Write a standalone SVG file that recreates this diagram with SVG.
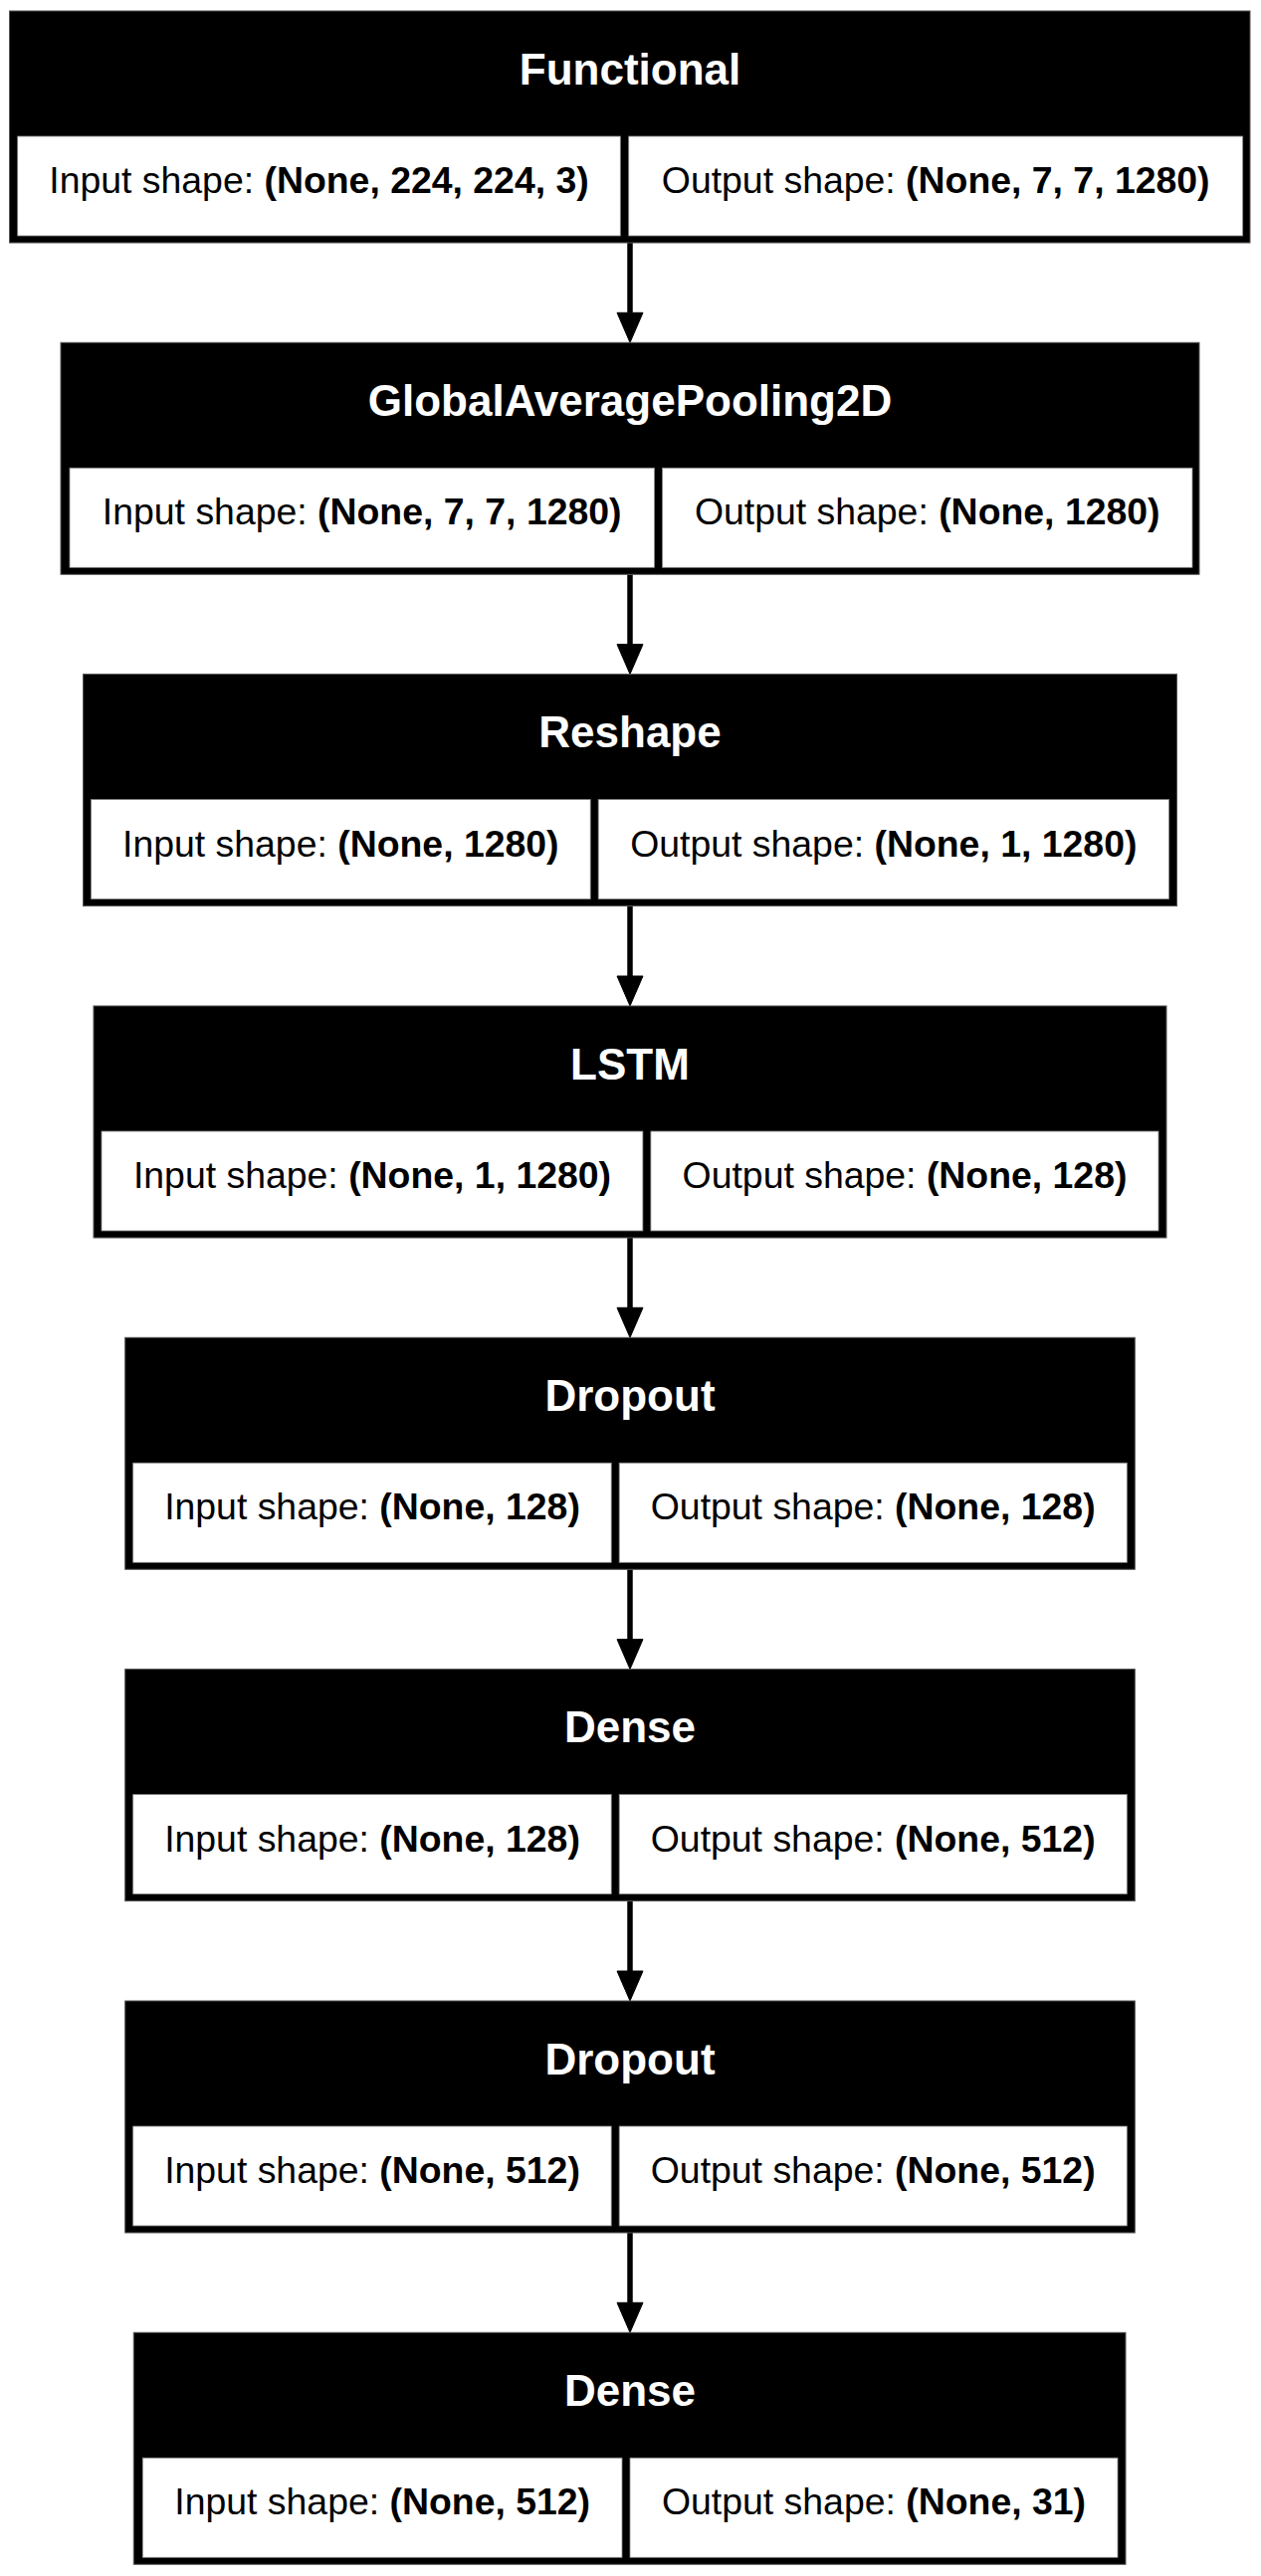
<svg xmlns="http://www.w3.org/2000/svg" width="1267" height="2589" viewBox="0 0 1267 2589">
<style>
.outer{fill:#000;stroke:#555;stroke-width:1}
.cell{fill:#fff;stroke:#888;stroke-width:0.8}
.title{font-family:"Liberation Sans",Arial,sans-serif;font-weight:bold;font-size:44px;fill:#fff;text-anchor:middle}
.txt{font-family:"Liberation Sans",Arial,sans-serif;font-size:37.4px;fill:#000;text-anchor:middle}
.b{font-weight:bold}
.edge{stroke:#000;stroke-width:5.5;fill:none}
.head{fill:#000;stroke:#000;stroke-width:1}
</style>
<rect width="1267" height="2589" fill="#fff"/>
<g id="connectors">
<line class="edge" x1="633" y1="244" x2="633" y2="314.3"/><polygon class="head" points="620,314.3 646,314.3 633,344.3"/>
<line class="edge" x1="633" y1="577.3" x2="633" y2="647.6"/><polygon class="head" points="620,647.6 646,647.6 633,677.6"/>
<line class="edge" x1="633" y1="910.6" x2="633" y2="981"/><polygon class="head" points="620,981 646,981 633,1011"/>
<line class="edge" x1="633" y1="1244" x2="633" y2="1314.3"/><polygon class="head" points="620,1314.3 646,1314.3 633,1344.3"/>
<line class="edge" x1="633" y1="1577.3" x2="633" y2="1647.6"/><polygon class="head" points="620,1647.6 646,1647.6 633,1677.6"/>
<line class="edge" x1="633" y1="1910.6" x2="633" y2="1981"/><polygon class="head" points="620,1981 646,1981 633,2011"/>
<line class="edge" x1="633" y1="2244" x2="633" y2="2314.3"/><polygon class="head" points="620,2314.3 646,2314.3 633,2344.3"/>
</g>
<g id="node1">
<rect class="outer" x="9.5" y="11" width="1246.5" height="233"/>
<rect class="cell" x="17.7" y="137" width="605.6" height="100"/>
<rect class="cell" x="631.7" y="137" width="617" height="100"/>
<text class="title" x="633" y="84.5">Functional</text>
<text class="txt" x="320.5" y="194">Input shape: <tspan class="b">(None, 224, 224, 3)</tspan></text>
<text class="txt" x="940.2" y="194">Output shape: <tspan class="b">(None, 7, 7, 1280)</tspan></text>
</g>
<g id="node2">
<rect class="outer" x="61" y="344.3" width="1144" height="233"/>
<rect class="cell" x="70" y="470.3" width="587.5" height="100"/>
<rect class="cell" x="665.5" y="470.3" width="532.5" height="100"/>
<text class="title" x="633" y="417.8">GlobalAveragePooling2D</text>
<text class="txt" x="363.7" y="527.3">Input shape: <tspan class="b">(None, 7, 7, 1280)</tspan></text>
<text class="txt" x="931.7" y="527.3">Output shape: <tspan class="b">(None, 1280)</tspan></text>
</g>
<g id="node3">
<rect class="outer" x="83.5" y="677.6" width="1099" height="233"/>
<rect class="cell" x="91.5" y="803.6" width="501.7" height="100"/>
<rect class="cell" x="601.2" y="803.6" width="573.3" height="100"/>
<text class="title" x="633" y="751.1">Reshape</text>
<text class="txt" x="342.3" y="860.6">Input shape: <tspan class="b">(None, 1280)</tspan></text>
<text class="txt" x="887.8" y="860.6">Output shape: <tspan class="b">(None, 1, 1280)</tspan></text>
</g>
<g id="node4">
<rect class="outer" x="94" y="1011" width="1078" height="233"/>
<rect class="cell" x="102" y="1137" width="543.9" height="100"/>
<rect class="cell" x="653.9" y="1137" width="510.1" height="100"/>
<text class="title" x="633" y="1084.5">LSTM</text>
<text class="txt" x="374" y="1194">Input shape: <tspan class="b">(None, 1, 1280)</tspan></text>
<text class="txt" x="909" y="1194">Output shape: <tspan class="b">(None, 128)</tspan></text>
</g>
<g id="node5">
<rect class="outer" x="125.7" y="1344.3" width="1014.6" height="233"/>
<rect class="cell" x="133.7" y="1470.3" width="480.5" height="100"/>
<rect class="cell" x="622.2" y="1470.3" width="510.1" height="100"/>
<text class="title" x="633" y="1417.8">Dropout</text>
<text class="txt" x="374" y="1527.3">Input shape: <tspan class="b">(None, 128)</tspan></text>
<text class="txt" x="877.2" y="1527.3">Output shape: <tspan class="b">(None, 128)</tspan></text>
</g>
<g id="node6">
<rect class="outer" x="125.7" y="1677.6" width="1014.6" height="233"/>
<rect class="cell" x="133.7" y="1803.6" width="480.5" height="100"/>
<rect class="cell" x="622.2" y="1803.6" width="510.1" height="100"/>
<text class="title" x="633" y="1751.1">Dense</text>
<text class="txt" x="374" y="1860.6">Input shape: <tspan class="b">(None, 128)</tspan></text>
<text class="txt" x="877.2" y="1860.6">Output shape: <tspan class="b">(None, 512)</tspan></text>
</g>
<g id="node7">
<rect class="outer" x="125.7" y="2011" width="1014.6" height="233"/>
<rect class="cell" x="133.7" y="2137" width="480.5" height="100"/>
<rect class="cell" x="622.2" y="2137" width="510.1" height="100"/>
<text class="title" x="633" y="2084.5">Dropout</text>
<text class="txt" x="374" y="2194">Input shape: <tspan class="b">(None, 512)</tspan></text>
<text class="txt" x="877.2" y="2194">Output shape: <tspan class="b">(None, 512)</tspan></text>
</g>
<g id="node8">
<rect class="outer" x="134.3" y="2344.3" width="996.7" height="233"/>
<rect class="cell" x="143.3" y="2470.3" width="481.7" height="100"/>
<rect class="cell" x="633" y="2470.3" width="490" height="100"/>
<text class="title" x="633" y="2417.8">Dense</text>
<text class="txt" x="384.2" y="2527.3">Input shape: <tspan class="b">(None, 512)</tspan></text>
<text class="txt" x="878" y="2527.3">Output shape: <tspan class="b">(None, 31)</tspan></text>
</g>
</svg>
